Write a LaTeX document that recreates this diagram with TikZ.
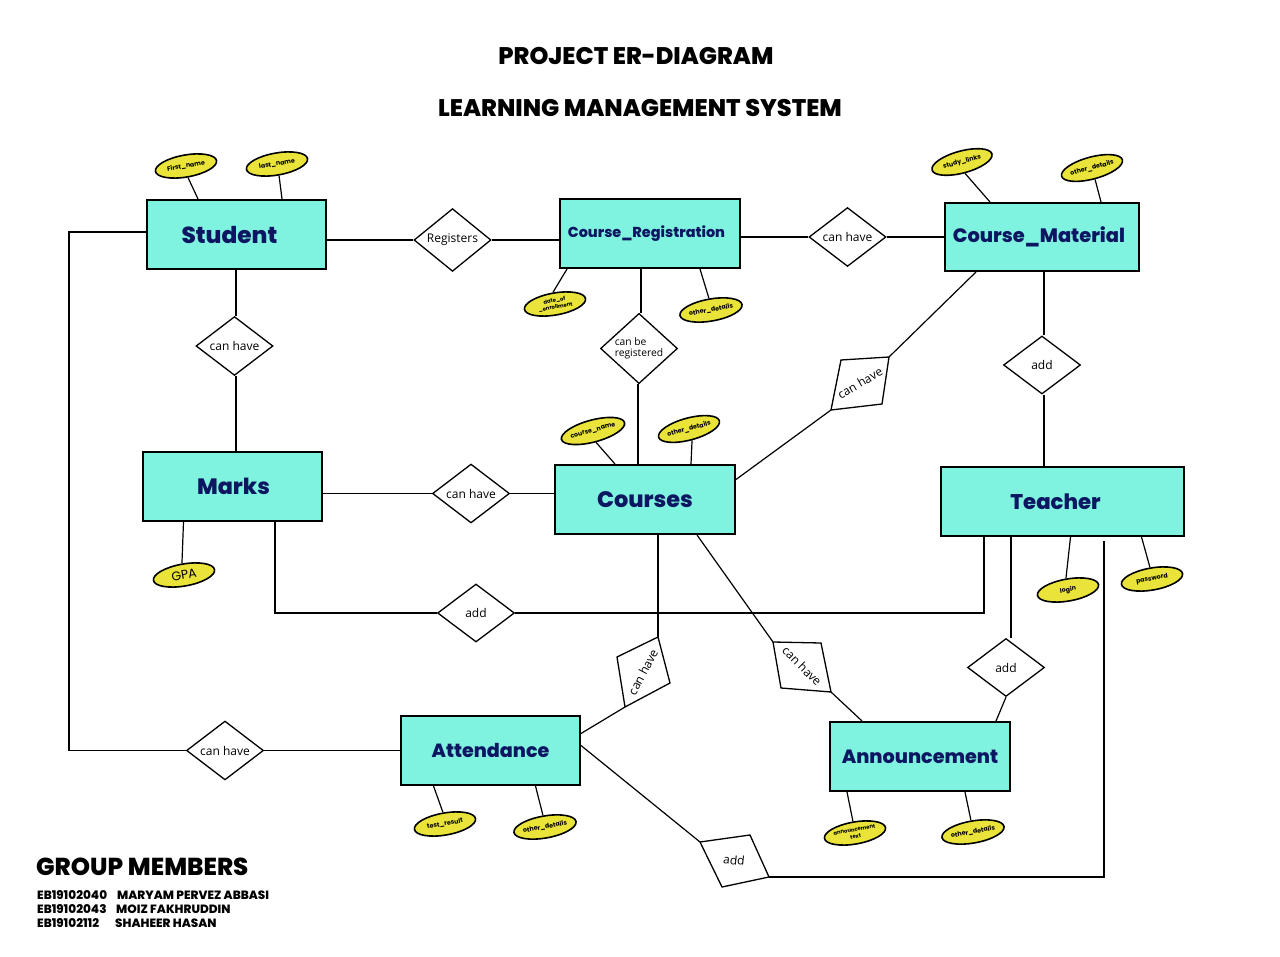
\documentclass[tikz,border=0pt]{standalone}
\usepackage{fontspec}
\setmainfont{Poppins}
\IfFontExistsTF{Poppins ExtraBold}{\newfontfamily\heavy{Poppins ExtraBold}}{\newfontfamily\heavy{Poppins}[UprightFont=*, UprightFeatures={FakeBold=0}]\let\oldheavy\heavy\def\heavy{\oldheavy\bfseries}}
\newfontfamily\dfont{Open Sans}
\usetikzlibrary{shapes.geometric,calc}
\definecolor{entfill}{HTML}{7FF3DF}
\definecolor{enttext}{HTML}{0D1661}
\definecolor{attrfill}{HTML}{EAE43A}
\tikzset{
  ent/.style={draw=black, line width=2pt, fill=entfill, text=enttext, minimum width=179, minimum height=69, inner sep=0},
  rel/.style={diamond, draw, line width=1.3pt, fill=white, minimum width=77, minimum height=58, inner sep=0, font=\dfont\fontsize{12}{14}\selectfont},
  relp/.style={draw, line width=1.3pt, fill=white},
  reltxt/.style={font=\dfont\fontsize{12}{14}\selectfont, inner sep=0},
  attr/.style={ellipse, draw, line width=1.6pt, fill=attrfill, minimum width=62, minimum height=22, inner sep=0, font=\bfseries\fontsize{6.3}{7}\selectfont, rotate=10, align=center},
  attr2/.style={attr, font=\bfseries\fontsize{5.3}{6.8}\selectfont},
  ln/.style={line width=1.2pt},
  ttl/.style={font=\heavy\fontsize{24}{28}\selectfont},
  mem/.style={anchor=west, inner sep=0, font=\heavy\fontsize{12}{14}\selectfont}
}
\begin{document}
\begin{tikzpicture}[x=1pt,y=-1pt]
\useasboundingbox[fill=white] (0,0) rectangle (1280,957);

% titles
\node[ttl] (t1) at (636,56) {PROJECT ER-DIAGRAM};
\node[ttl] (t2) at (640,108) {LEARNING MANAGEMENT SYSTEM};

% entities
\node[ent, font=\heavy\fontsize{23.2}{26}\selectfont] (student) at (236.5,234.5) {\hspace*{-14pt}Student};
\node[ent, minimum width=180, font=\heavy\fontsize{14.4}{16}\selectfont] (cr) at (650,233.5) {\hspace*{-7pt}Course\_Registration};
\node[ent, minimum width=194, minimum height=68, font=\heavy\fontsize{19.4}{22}\selectfont] (cm) at (1042,237) {\hspace*{-6pt}Course\_Material};
\node[ent, font=\heavy\fontsize{22.2}{24}\selectfont] (marks) at (232.5,486.5) {\hspace*{2pt}Marks};
\node[ent, minimum width=180, font=\heavy\fontsize{22.4}{24}\selectfont] (courses) at (645,499.5) {Courses};
\node[ent, minimum width=243, font=\heavy\fontsize{21.2}{24}\selectfont] (teacher) at (1062.5,501.5) {\hspace*{-14pt}Teacher};
\node[ent, font=\heavy\fontsize{19.1}{22}\selectfont] (att) at (490.5,750.5) {Attendance};
\node[ent, minimum width=180, font=\heavy\fontsize{19.2}{22}\selectfont] (ann) at (920,756.5) {Announcement};

% relationships (upright)
\node[rel] (reg) at (452.5,240) {Registers};
\node[rel] (cr1) at (847.5,237) {can have};
\node[rel] (sm) at (234.5,346) {can have};
\node[rel, align=left, font=\dfont\fontsize{10.3}{11.5}\selectfont] (cbr) at (639,348.5) {can be\\registered};
\node[rel] (add1) at (1042,365) {add};
\node[rel] (mc) at (471,493.5) {can have};
\node[rel] (am) at (476,613) {add};
\node[rel] (at) at (1006,667.5) {add};
\node[rel] (sa) at (225,750.5) {can have};

% relationships (tilted)
\coordinate (r1a) at (841,360); \coordinate (r1b) at (889,357);
\coordinate (r1c) at (882,404); \coordinate (r1d) at (831,410);
\draw[relp] (r1a) -- (r1b) -- (r1c) -- (r1d) -- cycle;
\node[reltxt, rotate=30] (r1) at (860,383) {can have};

\coordinate (r2a) at (617,657); \coordinate (r2b) at (658,637);
\coordinate (r2c) at (670,683); \coordinate (r2d) at (625,707);
\draw[relp] (r2a) -- (r2b) -- (r2c) -- (r2d) -- cycle;
\node[reltxt, rotate=62] (r2) at (643,672) {can have};

\coordinate (r3a) at (773,642); \coordinate (r3b) at (821,643);
\coordinate (r3c) at (831,692); \coordinate (r3d) at (781,688);
\draw[relp] (r3a) -- (r3b) -- (r3c) -- (r3d) -- cycle;
\node[reltxt, rotate=-45] (r3) at (802,666) {can have};

\coordinate (r4a) at (700,842); \coordinate (r4b) at (750,835);
\coordinate (r4c) at (769,877); \coordinate (r4d) at (722,887);
\draw[relp] (r4a) -- (r4b) -- (r4c) -- (r4d) -- cycle;
\node[reltxt, rotate=-6] (r4) at (734,860) {add};

% attributes
\node[attr] (fn) at (186,166) {First\_name};
\node[attr] (lnm) at (277,164) {last\_name};
\node[attr2] (doe) at (555,304) {date\_of\\\_enrollment};
\node[attr] (crod) at (711,310) {other\_details};
\node[attr, rotate=5] (sl) at (962,162) {study\_links};
\node[attr, rotate=5] (cmod) at (1092,168) {other\_details};
\node[attr, rotate=5] (cn) at (593,431) {course\_name};
\node[attr, rotate=5] (cod) at (689,429) {other\_details};
\node[attr, font=\fontsize{12.5}{14}\selectfont] (gpa) at (184,575) {GPA};
\node[attr] (login) at (1068,590) {login};
\node[attr] (pw) at (1152,579) {password};
\node[attr] (tr) at (445,824) {test\_result};
\node[attr] (aod) at (545,827) {other\_details};
\node[attr2] (atx) at (855,833) {announcement\\text};
\node[attr] (anod) at (973,832) {other\_details};

% connectors
\draw[ln] (reg.west -| student.east) -- (reg.west);
\draw[ln] (reg.east) -- (reg.east -| cr.west);
\draw[ln] (cr1.west -| cr.east) -- (cr1.west);
\draw[ln] (cr1.east) -- (cr1.east -| cm.west);
\draw[ln] ([xshift=1.5]sm.north |- student.south) -- ([xshift=1.5]sm.north);
\draw[ln] ([xshift=1.5]sm.south) -- ([xshift=1.5]sm.south |- marks.north);
\draw[ln] ([xshift=2]cbr.north |- cr.south) -- ([xshift=2]cbr.north);
\draw[ln] ([xshift=-1]cbr.south) -- ([xshift=-1]cbr.south |- courses.north);
\draw[ln] ([xshift=2]add1.north |- cm.south) -- ([xshift=2]add1.north);
\draw[ln] ([xshift=2]add1.south) -- ([xshift=2]add1.south |- teacher.north);
\draw[ln] (mc.west -| marks.east) -- (mc.west);
\draw[ln] (mc.east) -- (mc.east -| courses.west);
\draw[ln] ([xshift=42.5]marks.south) |- (am.west);
\draw[ln] (am.east) -| ([xshift=-78.5]teacher.south);
\draw[ln] ([xshift=-51.5]teacher.south) -- ([xshift=-51.5]teacher.south |- at.north);
\draw[ln] (at.south) -- ([xshift=76]ann.north);
\draw[ln] ([yshift=2.5]student.west) -- ++(-77,0) |- (sa.west);
\draw[ln] (sa.east) -- (sa.east -| att.west);
\draw[ln] ([xshift=41.5,yshift=-4]teacher.south) |- (r4c);
\draw[ln] ([yshift=5]att.east) -- (r4a);
\draw[ln] (r2b |- courses.south) -- (r2b);
\draw[ln] (r2d) -- ([yshift=17]att.east);
\draw[ln] ([yshift=20]courses.east) -- (r1d);
\draw[ln] (r1b) -- ([xshift=-66]cm.south);
\draw[ln] ([xshift=52]courses.south) -- (r3a);
\draw[ln] (r3c) -- ([xshift=-58]ann.north);

\draw[ln] (fn.south) -- ([xshift=-38.5]student.north);
\draw[ln] (lnm.south) -- ([xshift=45.5]student.north);
\draw[ln] ([xshift=-83]cr.south) -- (doe.north);
\draw[ln] ([xshift=50]cr.south) -- (crod.north);
\draw[ln] ([xshift=-52]cm.north) -- (sl.south);
\draw[ln] ([xshift=59]cm.north) -- (cmod.south);
\draw[ln] ([xshift=-30]courses.north) -- (cn.south);
\draw[ln] ([xshift=46]courses.north) -- (cod.south);
\draw[ln] ([xshift=-49]marks.south) -- (gpa.north);
\draw[ln] ([xshift=8]teacher.south) -- (login.north);
\draw[ln] ([xshift=79]teacher.south) -- (pw.north);
\draw[ln] ([xshift=-57]att.south) -- (tr.north);
\draw[ln] ([xshift=45]att.south) -- (aod.north);
\draw[ln] ([xshift=-73]ann.south) -- (atx.north);
\draw[ln] ([xshift=45]ann.south) -- (anod.north);

% group members
\node[anchor=west, inner sep=0, font=\heavy\fontsize{24.5}{28}\selectfont] (gm) at (36,867) {GROUP MEMBERS};
\node[mem] (id1) at (37,895) {EB19102040};
\node[mem] (id2) at (37,909) {EB19102043};
\node[mem] (id3) at (37,923) {EB19102112};
\node[mem] (nm1) at (117,895) {MARYAM PERVEZ ABBASI};
\node[mem] (nm2) at (116,909) {MOIZ FAKHRUDDIN};
\node[mem] (nm3) at (115,923) {SHAHEER HASAN};
\end{tikzpicture}
\end{document}
